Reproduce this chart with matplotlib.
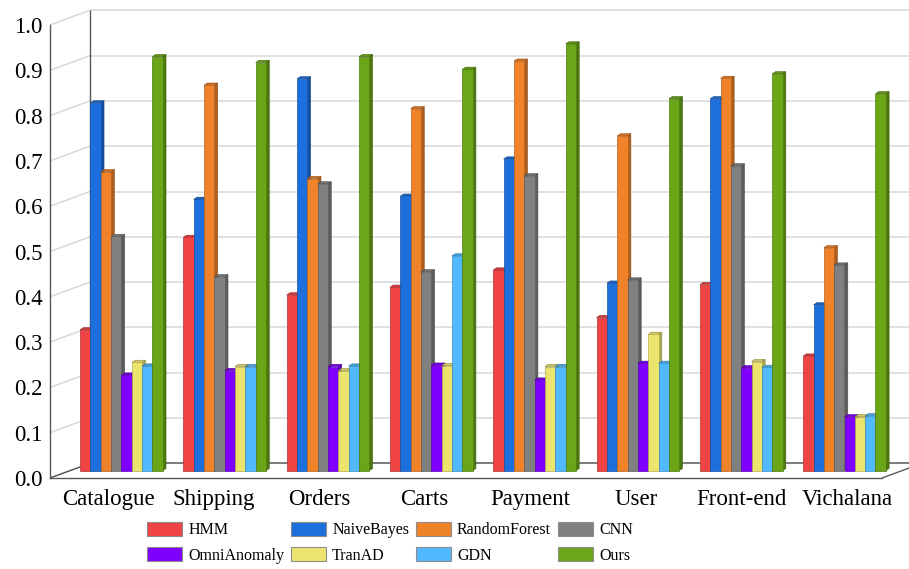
import numpy as np
import matplotlib
matplotlib.use("Agg")
import matplotlib.pyplot as plt
from matplotlib.patches import Polygon, Patch
from matplotlib.colors import to_rgb

# ---------------- data ----------------
services = ["Catalogue", "Shipping", "Orders", "Carts", "Payment",
            "User", "Front-end", "Vichalana"]
methods = ["HMM", "NaiveBayes", "RandomForest", "CNN",
           "OmniAnomaly", "TranAD", "GDN", "Ours"]

hmm = [0.311, 0.515, 0.388, 0.405, 0.443, 0.338, 0.411, 0.253]
naive_bayes = [0.812, 0.599, 0.865, 0.606, 0.688, 0.414, 0.821, 0.366]
random_forest = [0.660, 0.851, 0.645, 0.799, 0.904, 0.739, 0.866, 0.492]
cnn = [0.517, 0.428, 0.633, 0.439, 0.651, 0.421, 0.673, 0.454]
omni_anomaly = [0.211, 0.221, 0.230, 0.233, 0.200, 0.237, 0.227, 0.119]
tranad = [0.239, 0.230, 0.221, 0.232, 0.230, 0.301, 0.241, 0.119]
gdn = [0.231, 0.230, 0.231, 0.474, 0.230, 0.237, 0.228, 0.121]
ours = [0.914, 0.901, 0.914, 0.886, 0.942, 0.821, 0.876, 0.832]

series = [hmm, naive_bayes, random_forest, cnn, omni_anomaly, tranad, gdn, ours]
colors = ["#F04343", "#1C6FDD", "#F0822A", "#808080",
          "#8000FF", "#EDE46E", "#50B9FF", "#6BA518"]

y_ticks = np.round(np.arange(0, 1.01, 0.1), 1)

# ---------------- layout (pixel geometry of the pseudo-3D box) ----------------
W, H = 909, 569
GROUP_PX = 103.3       # horizontal pitch between service groups
GROUP0_PX = 121.4      # centre of the first group
BASE_PX = 470.7        # baseline of the bars
UNIT_PX = 453.0        # pixels per 1.0 of score
BACK_LEFT, BACK_FLOOR = 90, 463.3
FRONT_LEFT, FRONT_FLOOR = 50, 478.0
FRONT_RIGHT = 882
DEPTH_X, DEPTH_Y = 40, 14.7

plt.rcParams["font.family"] = ["Liberation Serif", "DejaVu Serif"]

fig = plt.figure(figsize=(W / 100, H / 100), dpi=100)
fig.patch.set_facecolor("white")

ax = fig.add_axes([0, 0, 1, 1])
ax.set_xlim(-GROUP0_PX / GROUP_PX, (W - GROUP0_PX) / GROUP_PX)
ax.set_ylim((BASE_PX - H) / UNIT_PX, BASE_PX / UNIT_PX)
ax.axis("off")


def px(x, y):
    """Pixel position (origin top-left) -> data coordinates of the main axes."""
    return ((x - GROUP0_PX) / GROUP_PX, (BASE_PX - y) / UNIT_PX)


def seg(p0, p1, color, lw=1.0, z=1):
    a, b = px(*p0), px(*p1)
    ax.plot([a[0], b[0]], [a[1], b[1]], color=color, lw=lw, zorder=z,
            solid_capstyle="butt")


grid_c = "#d9d9d9"
axis_c = "#595959"

# back wall gridlines and side wall diagonals
for t in y_ticks:
    yb = BACK_FLOOR - UNIT_PX * t
    yf = FRONT_FLOOR - UNIT_PX * t
    c = axis_c if t == 0 else grid_c
    seg((BACK_LEFT, yb), (W + 20, yb), c, 1.1)
    seg((FRONT_LEFT, yf), (BACK_LEFT, yb), c, 1.1)

# back-left vertical edge
seg((BACK_LEFT, BACK_FLOOR - UNIT_PX), (BACK_LEFT, BACK_FLOOR), axis_c, 1.0)
# floor right edge
seg((FRONT_RIGHT, FRONT_FLOOR), (FRONT_RIGHT + DEPTH_X, FRONT_FLOOR - DEPTH_Y), axis_c, 1.0)

# ---------------- bars ----------------
bar_w = 0.1
dx = 3.3 / GROUP_PX
dy = 2.2 / UNIT_PX
groups = np.arange(len(services))


def shade(c, f):
    r, g, b = to_rgb(c)
    return (r * f, g * f, b * f)


for i, (vals, col) in enumerate(zip(series, colors)):
    xs = groups - 0.35 + bar_w * i
    ax.bar(xs, vals, width=bar_w, color=col, edgecolor=shade(col, 0.75),
           linewidth=0.5, zorder=3 + 2 * i)
    for x, v in zip(xs, vals):
        r = x + bar_w / 2
        l = x - bar_w / 2
        side = Polygon([(r, 0), (r + dx, dy), (r + dx, v + dy), (r, v)],
                       closed=True, facecolor=shade(col, 0.72),
                       edgecolor=shade(col, 0.6), lw=0.4, zorder=2 + 2 * i)
        top = Polygon([(l, v), (l + dx, v + dy), (r + dx, v + dy), (r, v)],
                      closed=True, facecolor=shade(col, 0.88),
                      edgecolor=shade(col, 0.6), lw=0.4, zorder=2 + 2 * i)
        ax.add_patch(side)
        ax.add_patch(top)

# ---------------- front value axis ----------------
ax_y = fig.add_axes([FRONT_LEFT / W, (H - FRONT_FLOOR) / H, 0.001, UNIT_PX / H])
ax_y.set_ylim(0, 1)
ax_y.set_yticks(y_ticks)
ax_y.set_yticklabels([f"{t:.1f}" for t in y_ticks], fontsize=16.5)
ax_y.tick_params(axis="y", length=0, pad=5.5, colors="black")
ax_y.set_xticks([])
for s in ["top", "right", "bottom"]:
    ax_y.spines[s].set_visible(False)
ax_y.spines["left"].set_color(axis_c)
ax_y.spines["left"].set_linewidth(1.0)
ax_y.patch.set_alpha(0)

# ---------------- front category axis ----------------
ax_x = fig.add_axes([FRONT_LEFT / W, (H - FRONT_FLOOR) / H,
                     (FRONT_RIGHT - FRONT_LEFT) / W, 0.001])
ax_x.set_xlim(-0.5494, 7.3316)
ax_x.set_xticks(groups)
ax_x.set_xticklabels(services, fontsize=16.5)
ax_x.tick_params(axis="x", length=0, pad=8, colors="black")
ax_x.set_yticks([])
for s in ["top", "right", "left"]:
    ax_x.spines[s].set_visible(False)
ax_x.spines["bottom"].set_color(axis_c)
ax_x.spines["bottom"].set_linewidth(1.0)
ax_x.patch.set_alpha(0)

# ---------------- legend (row-wise order) ----------------
handles = [Patch(facecolor=c, edgecolor="#8c8c8c", linewidth=0.8) for c in colors]
ncol, nrow = 4, 2
order = [r * ncol + c for c in range(ncol) for r in range(nrow)]
fig.legend([handles[k] for k in order], [methods[k] for k in order],
           ncol=ncol, loc="upper left", bbox_to_anchor=(147 / W, 1 - 522 / H),
           frameon=False, fontsize=11.5, handlelength=2.2, handleheight=0.95,
           handletextpad=0.38, columnspacing=0.42, labelspacing=0.55,
           borderpad=0, borderaxespad=0)

fig.savefig("out.png", dpi=100)
